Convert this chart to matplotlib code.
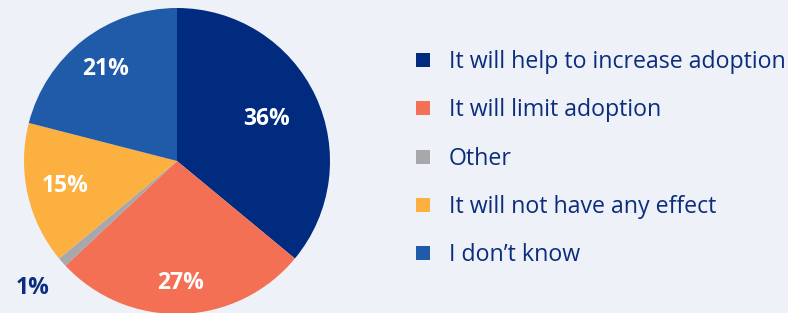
import matplotlib
matplotlib.use("Agg")
import matplotlib.pyplot as plt
from matplotlib.lines import Line2D
import numpy as np

labels = ["It will help to increase adoption", "It will limit adoption", "Other",
          "It will not have any effect", "I don\u2019t know"]
values = [36, 27, 1, 15, 21]
colors = ["#002B7F", "#F47054", "#A7A8AB", "#FBB040", "#1F5BA8"]
pct_text = ["36%", "27%", "1%", "15%", "21%"]
label_radius = [0.65, 0.80, 1.26, 0.75, 0.76]
label_colors = ["white", "white", "#0B2D7E", "white", "white"]

bg = "#EEF1F7"
plt.rcParams['font.family'] = ['Open Sans', 'DejaVu Sans']

fig = plt.figure(figsize=(7.88, 3.13), dpi=100, facecolor=bg)
ax = fig.add_axes([0, 0, 1, 1])
ax.set_facecolor(bg)
cx, cy, R = 177, 152, 153
wedges, _ = ax.pie(values, colors=colors, startangle=90, counterclock=False,
                   center=(cx, cy), radius=R, wedgeprops=dict(linewidth=0))
for w, t, rf, c in zip(wedges, pct_text, label_radius, label_colors):
    ang = np.deg2rad((w.theta1 + w.theta2) / 2)
    ax.text(cx + rf * R * np.cos(ang), cy + rf * R * np.sin(ang), t,
            ha="center", va="center", color=c, fontsize=16.5, fontweight="bold")
ax.set_xlim(0, 788)
ax.set_ylim(0, 313)
ax.set_aspect("equal")
ax.axis("off")

handles = [Line2D([], [], marker="s", linestyle="none", markersize=10,
                  markerfacecolor=c, markeredgewidth=0) for c in colors]
leg = fig.legend(handles, labels, loc="upper left", bbox_to_anchor=(416 / 788, 1 - 50 / 313),
                 frameon=False, fontsize=16.7, labelcolor="#0B2D7E", handlelength=0.6,
                 handletextpad=0.82, labelspacing=1.05, borderaxespad=0, borderpad=0)
fig.savefig("out.png", dpi=100, facecolor=bg)
